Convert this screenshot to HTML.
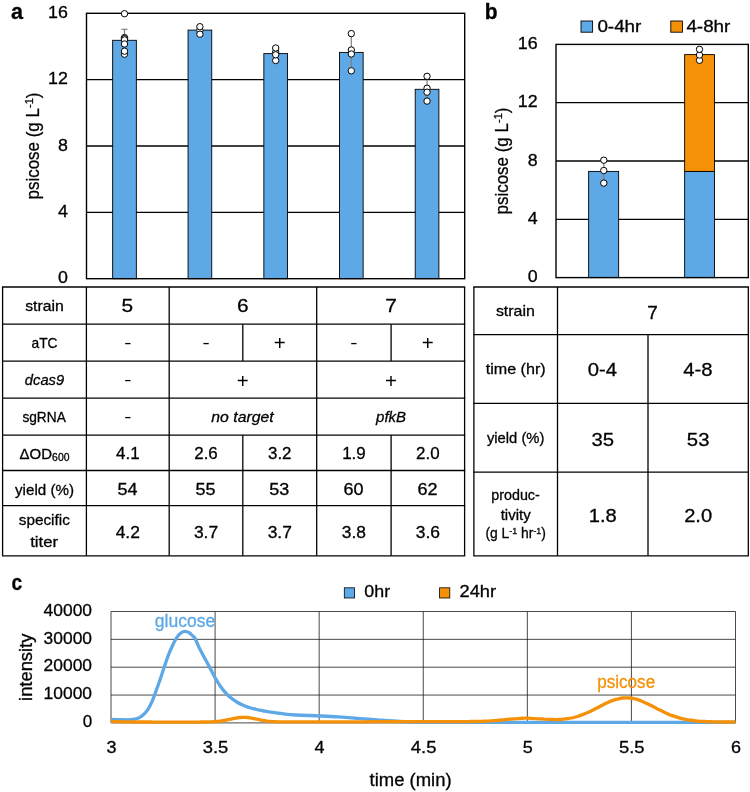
<!DOCTYPE html><html><head><meta charset="utf-8"><title>Figure</title>
<style>html,body{margin:0;padding:0;background:#fff}svg{display:block}text{font-family:"Liberation Sans", sans-serif}</style></head><body>
<svg width="750" height="792" viewBox="0 0 750 792">
<rect width="750" height="792" fill="#fff"/>
<g opacity="0.999">
<text x="11" y="19" font-size="21.3" text-anchor="start" textLength="12" lengthAdjust="spacingAndGlyphs" font-weight="bold" stroke="#000" stroke-width="0.3">a</text>
<text x="484.8" y="19" font-size="21.3" text-anchor="start" textLength="12.8" lengthAdjust="spacingAndGlyphs" font-weight="bold" stroke="#000" stroke-width="0.3">b</text>
<text x="11.6" y="590.2" font-size="21.3" text-anchor="start" textLength="10.7" lengthAdjust="spacingAndGlyphs" font-weight="bold" stroke="#000" stroke-width="0.3">c</text>
<line x1="86.5" y1="212.35" x2="464.7" y2="212.35" stroke="#000" stroke-width="1.3"/>
<line x1="86.5" y1="146.0" x2="464.7" y2="146.0" stroke="#000" stroke-width="1.3"/>
<line x1="86.5" y1="79.65" x2="464.7" y2="79.65" stroke="#000" stroke-width="1.3"/>
<rect x="112.65" y="40.3" width="23.7" height="238.39999999999998" fill="#5EA8E6" stroke="#000" stroke-width="0.9"/>
<rect x="188.05" y="30.1" width="23.7" height="248.6" fill="#5EA8E6" stroke="#000" stroke-width="0.9"/>
<rect x="263.84999999999997" y="53.6" width="23.7" height="225.1" fill="#5EA8E6" stroke="#000" stroke-width="0.9"/>
<rect x="339.45" y="52.4" width="23.7" height="226.29999999999998" fill="#5EA8E6" stroke="#000" stroke-width="0.9"/>
<rect x="415.2" y="89.3" width="23.7" height="189.39999999999998" fill="#5EA8E6" stroke="#000" stroke-width="0.9"/>
<rect x="86.5" y="13.3" width="378.2" height="265.4" fill="none" stroke="#000" stroke-width="1.4"/>
<line x1="124.5" y1="29.3" x2="124.5" y2="51.4" stroke="#7f7f7f" stroke-width="1.2"/>
<line x1="121.5" y1="29.3" x2="127.5" y2="29.3" stroke="#7f7f7f" stroke-width="1.2"/>
<line x1="121.5" y1="51.4" x2="127.5" y2="51.4" stroke="#7f7f7f" stroke-width="1.2"/>
<line x1="199.9" y1="28" x2="199.9" y2="33" stroke="#7f7f7f" stroke-width="1.2"/>
<line x1="196.9" y1="28" x2="202.9" y2="28" stroke="#7f7f7f" stroke-width="1.2"/>
<line x1="196.9" y1="33" x2="202.9" y2="33" stroke="#7f7f7f" stroke-width="1.2"/>
<line x1="275.7" y1="48" x2="275.7" y2="60" stroke="#7f7f7f" stroke-width="1.2"/>
<line x1="272.7" y1="48" x2="278.7" y2="48" stroke="#7f7f7f" stroke-width="1.2"/>
<line x1="272.7" y1="60" x2="278.7" y2="60" stroke="#7f7f7f" stroke-width="1.2"/>
<line x1="351.3" y1="34" x2="351.3" y2="70.6" stroke="#7f7f7f" stroke-width="1.2"/>
<line x1="348.3" y1="34" x2="354.3" y2="34" stroke="#7f7f7f" stroke-width="1.2"/>
<line x1="348.3" y1="70.6" x2="354.3" y2="70.6" stroke="#7f7f7f" stroke-width="1.2"/>
<line x1="427.05" y1="77" x2="427.05" y2="101" stroke="#7f7f7f" stroke-width="1.2"/>
<line x1="424.05" y1="77" x2="430.05" y2="77" stroke="#7f7f7f" stroke-width="1.2"/>
<line x1="424.05" y1="101" x2="430.05" y2="101" stroke="#7f7f7f" stroke-width="1.2"/>
<circle cx="124.5" cy="13.7" r="3.2" fill="#fff" stroke="#000" stroke-width="1"/>
<circle cx="124.5" cy="37.6" r="3.2" fill="#fff" stroke="#000" stroke-width="1"/>
<circle cx="124.5" cy="38.6" r="3.2" fill="#fff" stroke="#000" stroke-width="1"/>
<circle cx="124.5" cy="39.9" r="3.2" fill="#fff" stroke="#000" stroke-width="1"/>
<circle cx="124.5" cy="44" r="3.2" fill="#fff" stroke="#000" stroke-width="1"/>
<circle cx="124.5" cy="54.2" r="3.2" fill="#fff" stroke="#000" stroke-width="1"/>
<circle cx="124.5" cy="51.2" r="3.2" fill="#fff" stroke="#000" stroke-width="1"/>
<circle cx="199.9" cy="30.3" r="3.2" fill="#fff" stroke="#000" stroke-width="1"/>
<circle cx="199.9" cy="26.7" r="3.2" fill="#fff" stroke="#000" stroke-width="1"/>
<circle cx="199.9" cy="34.2" r="3.2" fill="#fff" stroke="#000" stroke-width="1"/>
<circle cx="275.7" cy="60.5" r="3.2" fill="#fff" stroke="#000" stroke-width="1"/>
<circle cx="275.7" cy="52" r="3.2" fill="#fff" stroke="#000" stroke-width="1"/>
<circle cx="275.7" cy="54.8" r="3.2" fill="#fff" stroke="#000" stroke-width="1"/>
<circle cx="275.7" cy="48" r="3.2" fill="#fff" stroke="#000" stroke-width="1"/>
<circle cx="351.3" cy="33.6" r="3.2" fill="#fff" stroke="#000" stroke-width="1"/>
<circle cx="351.3" cy="50" r="3.2" fill="#fff" stroke="#000" stroke-width="1"/>
<circle cx="351.3" cy="54" r="3.2" fill="#fff" stroke="#000" stroke-width="1"/>
<circle cx="351.3" cy="70.8" r="3.2" fill="#fff" stroke="#000" stroke-width="1"/>
<circle cx="427.05" cy="76.3" r="3.2" fill="#fff" stroke="#000" stroke-width="1"/>
<circle cx="427.05" cy="88.2" r="3.2" fill="#fff" stroke="#000" stroke-width="1"/>
<circle cx="427.05" cy="92.2" r="3.2" fill="#fff" stroke="#000" stroke-width="1"/>
<circle cx="427.05" cy="101.1" r="3.2" fill="#fff" stroke="#000" stroke-width="1"/>
<text x="67.9" y="283.3" font-size="16" text-anchor="end" textLength="9.9" lengthAdjust="spacingAndGlyphs" stroke="#000" stroke-width="0.3">0</text>
<text x="67.9" y="216.95" font-size="16" text-anchor="end" textLength="9.9" lengthAdjust="spacingAndGlyphs" stroke="#000" stroke-width="0.3">4</text>
<text x="67.9" y="150.6" font-size="16" text-anchor="end" textLength="9.9" lengthAdjust="spacingAndGlyphs" stroke="#000" stroke-width="0.3">8</text>
<text x="67.9" y="84.25" font-size="16" text-anchor="end" textLength="19.8" lengthAdjust="spacingAndGlyphs" stroke="#000" stroke-width="0.3">12</text>
<text x="67.9" y="17.900000000000013" font-size="16" text-anchor="end" textLength="19.8" lengthAdjust="spacingAndGlyphs" stroke="#000" stroke-width="0.3">16</text>
<text x="39" y="146" font-size="17.5" text-anchor="middle" textLength="107" lengthAdjust="spacingAndGlyphs" stroke="#000" stroke-width="0.3" transform="rotate(-90 39 146)">psicose (g L<tspan font-size="11.5" dy="-6.5">-1</tspan><tspan dy="6.5">)</tspan></text>
<line x1="556.0" y1="219.3" x2="748.3" y2="219.3" stroke="#000" stroke-width="1.3"/>
<line x1="556.0" y1="161.0" x2="748.3" y2="161.0" stroke="#000" stroke-width="1.3"/>
<line x1="556.0" y1="102.70000000000002" x2="748.3" y2="102.70000000000002" stroke="#000" stroke-width="1.3"/>
<rect x="588.65" y="171.4" width="30" height="106.20000000000002" fill="#5EA8E6" stroke="#000" stroke-width="0.9"/>
<rect x="684.65" y="171.4" width="29.8" height="106.20000000000002" fill="#5EA8E6" stroke="#000" stroke-width="0.9"/>
<rect x="684.65" y="54.6" width="29.8" height="116.80000000000001" fill="#F59108" stroke="#000" stroke-width="0.9"/>
<rect x="556.0" y="44.4" width="192.29999999999995" height="233.20000000000002" fill="none" stroke="#000" stroke-width="1.4"/>
<line x1="603.8" y1="161" x2="603.8" y2="183" stroke="#7f7f7f" stroke-width="1.2"/>
<line x1="600.8" y1="161" x2="606.8" y2="161" stroke="#7f7f7f" stroke-width="1.2"/>
<line x1="600.8" y1="183" x2="606.8" y2="183" stroke="#7f7f7f" stroke-width="1.2"/>
<line x1="699.5" y1="50" x2="699.5" y2="60" stroke="#7f7f7f" stroke-width="1.2"/>
<line x1="696.5" y1="50" x2="702.5" y2="50" stroke="#7f7f7f" stroke-width="1.2"/>
<line x1="696.5" y1="60" x2="702.5" y2="60" stroke="#7f7f7f" stroke-width="1.2"/>
<circle cx="603.8" cy="160.2" r="3.2" fill="#fff" stroke="#000" stroke-width="1"/>
<circle cx="603.8" cy="170.5" r="3.2" fill="#fff" stroke="#000" stroke-width="1"/>
<circle cx="603.8" cy="183.1" r="3.2" fill="#fff" stroke="#000" stroke-width="1"/>
<circle cx="699.5" cy="60.3" r="3.2" fill="#fff" stroke="#000" stroke-width="1"/>
<circle cx="699.5" cy="55" r="3.2" fill="#fff" stroke="#000" stroke-width="1"/>
<circle cx="699.5" cy="49.3" r="3.2" fill="#fff" stroke="#000" stroke-width="1"/>
<text x="537.6" y="282.20000000000005" font-size="16" text-anchor="end" textLength="9.9" lengthAdjust="spacingAndGlyphs" stroke="#000" stroke-width="0.3">0</text>
<text x="537.6" y="223.9" font-size="16" text-anchor="end" textLength="9.9" lengthAdjust="spacingAndGlyphs" stroke="#000" stroke-width="0.3">4</text>
<text x="537.6" y="165.6" font-size="16" text-anchor="end" textLength="9.9" lengthAdjust="spacingAndGlyphs" stroke="#000" stroke-width="0.3">8</text>
<text x="537.6" y="107.30000000000001" font-size="16" text-anchor="end" textLength="19.8" lengthAdjust="spacingAndGlyphs" stroke="#000" stroke-width="0.3">12</text>
<text x="537.6" y="49.00000000000001" font-size="16" text-anchor="end" textLength="19.8" lengthAdjust="spacingAndGlyphs" stroke="#000" stroke-width="0.3">16</text>
<text x="508" y="161" font-size="17.5" text-anchor="middle" textLength="107" lengthAdjust="spacingAndGlyphs" stroke="#000" stroke-width="0.3" transform="rotate(-90 508 161)">psicose (g L<tspan font-size="11.5" dy="-6.5">-1</tspan><tspan dy="6.5">)</tspan></text>
<rect x="581" y="21" width="11.6" height="11.2" fill="#5EA8E6" stroke="#000" stroke-width="0.9"/>
<text x="597.4" y="32" font-size="16" text-anchor="start" textLength="44" lengthAdjust="spacingAndGlyphs" stroke="#000" stroke-width="0.3">0-4hr</text>
<rect x="670.8" y="21" width="11.6" height="11.2" fill="#F59108" stroke="#000" stroke-width="0.9"/>
<text x="686.4" y="32" font-size="16" text-anchor="start" textLength="44" lengthAdjust="spacingAndGlyphs" stroke="#000" stroke-width="0.3">4-8hr</text>
<line x1="1.9500000000000002" y1="287" x2="465.25" y2="287" stroke="#000" stroke-width="1.3"/>
<line x1="1.9500000000000002" y1="324.2" x2="465.25" y2="324.2" stroke="#000" stroke-width="1.3"/>
<line x1="1.9500000000000002" y1="361.1" x2="465.25" y2="361.1" stroke="#000" stroke-width="1.3"/>
<line x1="1.9500000000000002" y1="398.1" x2="465.25" y2="398.1" stroke="#000" stroke-width="1.3"/>
<line x1="1.9500000000000002" y1="435.1" x2="465.25" y2="435.1" stroke="#000" stroke-width="1.3"/>
<line x1="1.9500000000000002" y1="470.5" x2="465.25" y2="470.5" stroke="#000" stroke-width="1.3"/>
<line x1="1.9500000000000002" y1="505.7" x2="465.25" y2="505.7" stroke="#000" stroke-width="1.3"/>
<line x1="1.9500000000000002" y1="555.8" x2="465.25" y2="555.8" stroke="#000" stroke-width="1.3"/>
<line x1="2.6" y1="287" x2="2.6" y2="555.8" stroke="#000" stroke-width="1.3"/>
<line x1="86.4" y1="287" x2="86.4" y2="555.8" stroke="#000" stroke-width="1.3"/>
<line x1="169.2" y1="287" x2="169.2" y2="555.8" stroke="#000" stroke-width="1.3"/>
<line x1="316.7" y1="287" x2="316.7" y2="555.8" stroke="#000" stroke-width="1.3"/>
<line x1="464.6" y1="287" x2="464.6" y2="555.8" stroke="#000" stroke-width="1.3"/>
<line x1="242.8" y1="324.2" x2="242.8" y2="361.1" stroke="#000" stroke-width="1.3"/>
<line x1="242.8" y1="435.1" x2="242.8" y2="555.8" stroke="#000" stroke-width="1.3"/>
<line x1="391.1" y1="324.2" x2="391.1" y2="361.1" stroke="#000" stroke-width="1.3"/>
<line x1="391.1" y1="435.1" x2="391.1" y2="555.8" stroke="#000" stroke-width="1.3"/>
<text x="44.5" y="311.3" font-size="15" text-anchor="middle" textLength="38.6" lengthAdjust="spacingAndGlyphs" stroke="#000" stroke-width="0.3">strain</text>
<text x="44.5" y="347.8" font-size="14.5" text-anchor="middle" textLength="26" lengthAdjust="spacingAndGlyphs" stroke="#000" stroke-width="0.3">aTC</text>
<text x="44.5" y="385" font-size="15" text-anchor="middle" textLength="39.3" lengthAdjust="spacingAndGlyphs" font-style="italic" stroke="#000" stroke-width="0.3">dcas9</text>
<text x="44.1" y="422" font-size="14.5" text-anchor="middle" textLength="43.4" lengthAdjust="spacingAndGlyphs" stroke="#000" stroke-width="0.3">sgRNA</text>
<text x="44.5" y="459.3" font-size="14.5" text-anchor="middle" textLength="49.8" lengthAdjust="spacingAndGlyphs" stroke="#000" stroke-width="0.3">ΔOD<tspan font-size="10" dy="1.8">600</tspan></text>
<text x="44.5" y="494.5" font-size="15" text-anchor="middle" textLength="59" lengthAdjust="spacingAndGlyphs" stroke="#000" stroke-width="0.3">yield (%)</text>
<text x="44.3" y="525.4" font-size="15" text-anchor="middle" textLength="51" lengthAdjust="spacingAndGlyphs" stroke="#000" stroke-width="0.3">specific</text>
<text x="44.2" y="547.2" font-size="15" text-anchor="middle" textLength="28" lengthAdjust="spacingAndGlyphs" stroke="#000" stroke-width="0.3">titer</text>
<text x="127.39999999999999" y="312.4" font-size="18.5" text-anchor="middle" textLength="11.6" lengthAdjust="spacingAndGlyphs" stroke="#000" stroke-width="0.3">5</text>
<text x="242.8" y="312.4" font-size="18.5" text-anchor="middle" textLength="11.6" lengthAdjust="spacingAndGlyphs" stroke="#000" stroke-width="0.3">6</text>
<text x="391.1" y="312.4" font-size="18.5" text-anchor="middle" textLength="11.6" lengthAdjust="spacingAndGlyphs" stroke="#000" stroke-width="0.3">7</text>
<text x="127.8" y="347.7" font-size="17" text-anchor="middle" textLength="7.2" lengthAdjust="spacingAndGlyphs" stroke="#000" stroke-width="0.1">-</text>
<text x="206.0" y="347.7" font-size="17" text-anchor="middle" textLength="7.2" lengthAdjust="spacingAndGlyphs" stroke="#000" stroke-width="0.1">-</text>
<text x="353.9" y="347.7" font-size="17" text-anchor="middle" textLength="7.2" lengthAdjust="spacingAndGlyphs" stroke="#000" stroke-width="0.1">-</text>
<text x="279.75" y="350.4" font-size="20.5" text-anchor="middle" stroke="#000" stroke-width="0">+</text>
<text x="427.85" y="350.4" font-size="20.5" text-anchor="middle" stroke="#000" stroke-width="0">+</text>
<text x="127.8" y="384.7" font-size="17" text-anchor="middle" textLength="7.2" lengthAdjust="spacingAndGlyphs" stroke="#000" stroke-width="0.1">-</text>
<text x="242.8" y="387.5" font-size="20.5" text-anchor="middle" stroke="#000" stroke-width="0">+</text>
<text x="391.1" y="387.5" font-size="20.5" text-anchor="middle" stroke="#000" stroke-width="0">+</text>
<text x="127.8" y="421.7" font-size="17" text-anchor="middle" textLength="7.2" lengthAdjust="spacingAndGlyphs" stroke="#000" stroke-width="0.1">-</text>
<text x="242.5" y="422" font-size="15" text-anchor="middle" textLength="62.3" lengthAdjust="spacingAndGlyphs" font-style="italic" stroke="#000" stroke-width="0.3">no target</text>
<text x="391.1" y="422" font-size="15" text-anchor="middle" textLength="30" lengthAdjust="spacingAndGlyphs" font-style="italic" stroke="#000" stroke-width="0.3">pfkB</text>
<text x="127.8" y="459.3" font-size="16" text-anchor="middle" textLength="23.5" lengthAdjust="spacingAndGlyphs" stroke="#000" stroke-width="0.3">4.1</text>
<text x="127.39999999999999" y="495" font-size="16" text-anchor="middle" textLength="20" lengthAdjust="spacingAndGlyphs" stroke="#000" stroke-width="0.3">54</text>
<text x="127.8" y="537.6" font-size="16" text-anchor="middle" textLength="24.2" lengthAdjust="spacingAndGlyphs" stroke="#000" stroke-width="0.3">4.2</text>
<text x="206.0" y="459.3" font-size="16" text-anchor="middle" textLength="23.5" lengthAdjust="spacingAndGlyphs" stroke="#000" stroke-width="0.3">2.6</text>
<text x="205.6" y="495" font-size="16" text-anchor="middle" textLength="20" lengthAdjust="spacingAndGlyphs" stroke="#000" stroke-width="0.3">55</text>
<text x="206.0" y="537.6" font-size="16" text-anchor="middle" textLength="24.2" lengthAdjust="spacingAndGlyphs" stroke="#000" stroke-width="0.3">3.7</text>
<text x="279.75" y="459.3" font-size="16" text-anchor="middle" textLength="23.5" lengthAdjust="spacingAndGlyphs" stroke="#000" stroke-width="0.3">3.2</text>
<text x="279.35" y="495" font-size="16" text-anchor="middle" textLength="20" lengthAdjust="spacingAndGlyphs" stroke="#000" stroke-width="0.3">53</text>
<text x="279.75" y="537.6" font-size="16" text-anchor="middle" textLength="24.2" lengthAdjust="spacingAndGlyphs" stroke="#000" stroke-width="0.3">3.7</text>
<text x="353.9" y="459.3" font-size="16" text-anchor="middle" textLength="23.5" lengthAdjust="spacingAndGlyphs" stroke="#000" stroke-width="0.3">1.9</text>
<text x="353.5" y="495" font-size="16" text-anchor="middle" textLength="20" lengthAdjust="spacingAndGlyphs" stroke="#000" stroke-width="0.3">60</text>
<text x="353.9" y="537.6" font-size="16" text-anchor="middle" textLength="24.2" lengthAdjust="spacingAndGlyphs" stroke="#000" stroke-width="0.3">3.8</text>
<text x="427.85" y="459.3" font-size="16" text-anchor="middle" textLength="23.5" lengthAdjust="spacingAndGlyphs" stroke="#000" stroke-width="0.3">2.0</text>
<text x="427.45000000000005" y="495" font-size="16" text-anchor="middle" textLength="20" lengthAdjust="spacingAndGlyphs" stroke="#000" stroke-width="0.3">62</text>
<text x="427.85" y="537.6" font-size="16" text-anchor="middle" textLength="24.2" lengthAdjust="spacingAndGlyphs" stroke="#000" stroke-width="0.3">3.6</text>
<line x1="473.25" y1="287" x2="748.9499999999999" y2="287" stroke="#000" stroke-width="1.3"/>
<line x1="473.25" y1="334.6" x2="748.9499999999999" y2="334.6" stroke="#000" stroke-width="1.3"/>
<line x1="473.25" y1="403.3" x2="748.9499999999999" y2="403.3" stroke="#000" stroke-width="1.3"/>
<line x1="473.25" y1="472.2" x2="748.9499999999999" y2="472.2" stroke="#000" stroke-width="1.3"/>
<line x1="473.25" y1="555.8" x2="748.9499999999999" y2="555.8" stroke="#000" stroke-width="1.3"/>
<line x1="473.9" y1="287" x2="473.9" y2="555.8" stroke="#000" stroke-width="1.3"/>
<line x1="557.5" y1="287" x2="557.5" y2="555.8" stroke="#000" stroke-width="1.3"/>
<line x1="748.3" y1="287" x2="748.3" y2="555.8" stroke="#000" stroke-width="1.3"/>
<line x1="648" y1="334.6" x2="648" y2="555.8" stroke="#000" stroke-width="1.3"/>
<text x="515.4000000000001" y="316.3" font-size="15" text-anchor="middle" textLength="39" lengthAdjust="spacingAndGlyphs" stroke="#000" stroke-width="0.3">strain</text>
<text x="515.7" y="374.3" font-size="15" text-anchor="middle" textLength="60" lengthAdjust="spacingAndGlyphs" stroke="#000" stroke-width="0.3">time (hr)</text>
<text x="515.7" y="443" font-size="15" text-anchor="middle" textLength="57.5" lengthAdjust="spacingAndGlyphs" stroke="#000" stroke-width="0.3">yield (%)</text>
<text x="515.5" y="500.4" font-size="14" text-anchor="middle" textLength="48.5" lengthAdjust="spacingAndGlyphs" stroke="#000" stroke-width="0.3">produc-</text>
<text x="515.7" y="519.7" font-size="14" text-anchor="middle" textLength="30" lengthAdjust="spacingAndGlyphs" stroke="#000" stroke-width="0.3">tivity</text>
<text x="515.7" y="538.2" font-size="14" text-anchor="middle" textLength="60.5" lengthAdjust="spacingAndGlyphs" stroke="#000" stroke-width="0.3">(g L<tspan font-size="9" dy="-4.5">-1</tspan><tspan dy="4.5"> hr</tspan><tspan font-size="9" dy="-4.5">-1</tspan><tspan dy="4.5">)</tspan></text>
<text x="652.5" y="318.8" font-size="19" text-anchor="middle" stroke="#000" stroke-width="0.3">7</text>
<text x="602.45" y="376.4" font-size="18.5" text-anchor="middle" textLength="29.3" lengthAdjust="spacingAndGlyphs" stroke="#000" stroke-width="0.3">0-4</text>
<text x="697.85" y="376.4" font-size="18.5" text-anchor="middle" textLength="29.3" lengthAdjust="spacingAndGlyphs" stroke="#000" stroke-width="0.3">4-8</text>
<text x="602.75" y="445.7" font-size="18.8" text-anchor="middle" textLength="22.6" lengthAdjust="spacingAndGlyphs" stroke="#000" stroke-width="0.3">35</text>
<text x="698.15" y="445.7" font-size="18.8" text-anchor="middle" textLength="22.6" lengthAdjust="spacingAndGlyphs" stroke="#000" stroke-width="0.3">53</text>
<text x="602.75" y="521.8" font-size="18.8" text-anchor="middle" textLength="28" lengthAdjust="spacingAndGlyphs" stroke="#000" stroke-width="0.3">1.8</text>
<text x="698.15" y="521.8" font-size="18.8" text-anchor="middle" textLength="28" lengthAdjust="spacingAndGlyphs" stroke="#000" stroke-width="0.3">2.0</text>
<line x1="111.0" y1="611.5" x2="735.5" y2="611.5" stroke="#1a1a1a" stroke-width="0.8"/>
<line x1="111.0" y1="639.35" x2="735.5" y2="639.35" stroke="#1a1a1a" stroke-width="0.8"/>
<line x1="111.0" y1="667.2" x2="735.5" y2="667.2" stroke="#1a1a1a" stroke-width="0.8"/>
<line x1="111.0" y1="695.05" x2="735.5" y2="695.05" stroke="#1a1a1a" stroke-width="0.8"/>
<line x1="111.0" y1="722.9" x2="735.5" y2="722.9" stroke="#1a1a1a" stroke-width="0.8"/>
<line x1="111.0" y1="611.5" x2="111.0" y2="722.9" stroke="#1a1a1a" stroke-width="0.8"/>
<line x1="215.08333333333331" y1="611.5" x2="215.08333333333331" y2="722.9" stroke="#1a1a1a" stroke-width="0.8"/>
<line x1="319.16666666666663" y1="611.5" x2="319.16666666666663" y2="722.9" stroke="#1a1a1a" stroke-width="0.8"/>
<line x1="423.25" y1="611.5" x2="423.25" y2="722.9" stroke="#1a1a1a" stroke-width="0.8"/>
<line x1="527.3333333333333" y1="611.5" x2="527.3333333333333" y2="722.9" stroke="#1a1a1a" stroke-width="0.8"/>
<line x1="631.4166666666666" y1="611.5" x2="631.4166666666666" y2="722.9" stroke="#1a1a1a" stroke-width="0.8"/>
<line x1="735.5" y1="611.5" x2="735.5" y2="722.9" stroke="#1a1a1a" stroke-width="0.8"/>
<path d="M111.0,719.4 C112.5,719.5 116.7,719.7 120.0,719.7 C123.3,719.8 128.1,719.9 131.1,719.7 C134.1,719.5 135.9,719.2 138.0,718.3 C140.1,717.4 142.0,715.8 143.6,714.4 C145.2,713.0 146.4,711.7 147.8,709.6 C149.2,707.5 150.5,705.0 151.9,701.9 C153.3,698.8 154.7,694.6 156.1,690.8 C157.5,687.0 158.9,683.0 160.3,679.0 C161.7,675.0 163.0,670.5 164.4,666.5 C165.8,662.5 167.2,658.3 168.6,654.7 C170.0,651.1 171.4,647.9 172.8,645.0 C174.2,642.1 175.5,639.4 176.9,637.4 C178.3,635.4 179.8,633.8 181.1,632.8 C182.4,631.8 183.6,631.3 185.0,631.3 C186.4,631.3 188.1,632.0 189.4,632.8 C190.7,633.5 191.7,634.9 192.6,635.8 C193.5,636.7 193.9,636.5 195.0,638.4 C196.1,640.3 197.2,643.6 198.9,647.1 C200.6,650.6 203.3,655.5 205.2,659.1 C207.1,662.7 208.6,665.5 210.3,668.6 C212.0,671.8 213.6,675.1 215.3,678.0 C217.0,680.9 218.7,683.8 220.4,686.2 C222.1,688.6 223.7,690.7 225.4,692.6 C227.1,694.5 228.6,696.0 230.5,697.6 C232.4,699.2 234.7,700.7 236.8,702.0 C238.9,703.3 240.8,704.2 243.1,705.2 C245.4,706.2 247.9,707.2 250.7,708.0 C253.5,708.8 257.8,709.7 260.0,710.2 C262.2,710.7 261.6,710.6 264.0,711.0 C266.4,711.4 271.1,712.2 274.7,712.7 C278.2,713.2 281.8,713.8 285.3,714.2 C288.9,714.6 290.3,714.7 296.0,715.0 C301.7,715.3 312.4,715.6 319.5,715.9 C326.6,716.2 331.9,716.4 338.7,716.9 C345.4,717.4 353.5,718.1 360.0,718.6 C366.5,719.1 370.9,719.4 377.6,719.9 C384.3,720.4 393.1,721.1 400.0,721.5 C406.9,721.9 412.3,722.1 419.0,722.2 C425.7,722.4 409.8,722.4 440.0,722.4 C470.2,722.4 550.8,722.4 600.0,722.4 C649.2,722.4 712.9,722.4 735.5,722.4" fill="none" stroke="#5EA8E6" stroke-width="3.3" stroke-linejoin="round" stroke-linecap="butt"/>
<path d="M111.0,721.4 C111.7,721.4 113.6,721.5 114.9,721.6 C116.2,721.6 117.5,721.7 118.8,721.7 C120.1,721.7 121.4,721.8 122.7,721.8 C124.0,721.8 125.3,721.8 126.6,721.9 C127.9,721.9 129.2,721.9 130.5,721.9 C131.8,721.9 133.1,721.9 134.4,722.0 C135.7,722.0 137.0,722.0 138.3,722.0 C139.6,722.0 140.9,722.0 142.2,722.0 C143.5,722.0 144.8,722.0 146.1,722.0 C147.4,722.0 148.7,722.0 150.0,722.0 C151.3,722.0 152.6,722.0 153.9,722.1 C155.2,722.1 156.5,722.1 157.8,722.1 C159.1,722.1 160.4,722.1 161.7,722.1 C163.0,722.1 164.3,722.1 165.6,722.1 C166.9,722.1 168.2,722.1 169.5,722.1 C170.8,722.1 172.1,722.1 173.4,722.1 C174.8,722.1 176.1,722.1 177.4,722.1 C178.7,722.1 180.0,722.1 181.3,722.1 C182.6,722.1 183.9,722.1 185.2,722.1 C186.5,722.1 187.8,722.1 189.1,722.1 C190.4,722.1 191.7,722.1 193.0,722.1 C194.3,722.1 195.6,722.1 196.9,722.1 C198.2,722.1 199.5,722.0 200.8,722.0 C202.1,722.0 203.4,722.0 204.7,722.0 C206.0,722.0 207.3,722.0 208.6,721.9 C209.9,721.9 211.2,721.9 212.5,721.8 C213.8,721.7 215.1,721.6 216.4,721.5 C217.7,721.4 219.0,721.3 220.3,721.1 C221.6,720.9 222.9,720.7 224.2,720.5 C225.5,720.3 226.8,720.0 228.1,719.7 C229.4,719.5 230.7,719.2 232.0,718.9 C233.3,718.6 234.6,718.3 235.9,718.1 C237.2,717.9 238.5,717.7 239.8,717.5 C241.1,717.4 242.4,717.3 243.7,717.3 C245.0,717.3 246.3,717.4 247.6,717.5 C248.9,717.6 250.2,717.9 251.5,718.1 C252.8,718.3 254.1,718.6 255.4,718.9 C256.7,719.1 258.0,719.4 259.3,719.7 C260.6,720.0 261.9,720.2 263.2,720.5 C264.5,720.7 265.8,720.9 267.1,721.1 C268.4,721.2 269.7,721.3 271.0,721.5 C272.3,721.6 273.6,721.6 274.9,721.7 C276.2,721.8 277.5,721.8 278.8,721.8 C280.1,721.9 281.4,721.9 282.7,721.9 C284.0,721.9 285.3,721.9 286.6,721.9 C287.9,721.9 289.2,721.9 290.5,721.9 C291.8,721.9 293.1,721.9 294.4,721.9 C295.7,721.9 297.0,721.9 298.4,721.9 C299.7,721.9 301.0,721.9 302.3,721.9 C303.6,721.9 304.9,721.9 306.2,721.9 C307.5,721.9 308.8,721.9 310.1,721.9 C311.4,721.9 312.7,721.9 314.0,721.9 C315.3,721.9 316.6,721.9 317.9,721.9 C319.2,721.9 320.5,721.9 321.8,721.9 C323.1,721.9 324.4,721.9 325.7,721.9 C327.0,721.9 328.3,721.9 329.6,721.8 C330.9,721.8 332.2,721.8 333.5,721.8 C334.8,721.8 336.1,721.8 337.4,721.8 C338.7,721.8 340.0,721.8 341.3,721.8 C342.6,721.8 343.9,721.8 345.2,721.8 C346.5,721.8 347.8,721.8 349.1,721.8 C350.4,721.8 351.7,721.8 353.0,721.8 C354.3,721.8 355.6,721.8 356.9,721.8 C358.2,721.8 359.5,721.8 360.8,721.8 C362.1,721.8 363.4,721.8 364.7,721.8 C366.0,721.8 367.3,721.8 368.6,721.8 C369.9,721.7 371.2,721.7 372.5,721.7 C373.8,721.7 375.1,721.7 376.4,721.7 C377.7,721.7 379.0,721.7 380.3,721.7 C381.6,721.7 382.9,721.7 384.2,721.7 C385.5,721.7 386.8,721.7 388.1,721.7 C389.4,721.7 390.7,721.7 392.0,721.7 C393.3,721.7 394.6,721.7 395.9,721.7 C397.2,721.7 398.5,721.7 399.8,721.7 C401.1,721.7 402.4,721.7 403.7,721.7 C405.0,721.7 406.3,721.7 407.6,721.7 C408.9,721.7 410.2,721.7 411.5,721.7 C412.8,721.7 414.1,721.7 415.4,721.6 C416.7,721.6 418.0,721.6 419.3,721.6 C420.6,721.6 421.9,721.6 423.2,721.6 C424.6,721.6 425.9,721.6 427.2,721.6 C428.5,721.6 429.8,721.6 431.1,721.6 C432.4,721.6 433.7,721.6 435.0,721.6 C436.3,721.6 437.6,721.6 438.9,721.6 C440.2,721.6 441.5,721.6 442.8,721.6 C444.1,721.6 445.4,721.6 446.7,721.6 C448.0,721.6 449.3,721.6 450.6,721.6 C451.9,721.6 453.2,721.6 454.5,721.6 C455.8,721.6 457.1,721.6 458.4,721.6 C459.7,721.6 461.0,721.6 462.3,721.6 C463.6,721.6 464.9,721.6 466.2,721.6 C467.5,721.6 468.8,721.5 470.1,721.5 C471.4,721.5 472.7,721.5 474.0,721.5 C475.3,721.5 476.6,721.4 477.9,721.4 C479.2,721.4 480.5,721.3 481.8,721.3 C483.1,721.3 484.4,721.2 485.7,721.2 C487.0,721.1 488.3,721.0 489.6,721.0 C490.9,720.9 492.2,720.8 493.5,720.7 C494.8,720.6 496.1,720.5 497.4,720.4 C498.7,720.3 500.0,720.2 501.3,720.0 C502.6,719.9 503.9,719.8 505.2,719.6 C506.5,719.5 507.8,719.4 509.1,719.2 C510.4,719.1 511.7,719.0 513.0,718.9 C514.3,718.8 515.6,718.6 516.9,718.6 C518.2,718.5 519.5,718.4 520.8,718.3 C522.1,718.3 523.4,718.2 524.7,718.2 C526.0,718.2 527.3,718.2 528.6,718.2 C529.9,718.3 531.2,718.3 532.5,718.4 C533.8,718.4 535.1,718.5 536.4,718.6 C537.7,718.6 539.0,718.7 540.3,718.8 C541.6,718.9 542.9,719.0 544.2,719.1 C545.5,719.2 546.8,719.3 548.2,719.4 C549.5,719.4 550.8,719.5 552.1,719.5 C553.4,719.6 554.7,719.6 556.0,719.6 C557.3,719.6 558.6,719.6 559.9,719.5 C561.2,719.4 562.5,719.3 563.8,719.2 C565.1,719.1 566.4,718.9 567.7,718.7 C569.0,718.5 570.3,718.3 571.6,718.0 C572.9,717.7 574.2,717.4 575.5,717.0 C576.8,716.7 578.1,716.3 579.4,715.8 C580.7,715.4 582.0,714.9 583.3,714.4 C584.6,713.9 585.9,713.3 587.2,712.8 C588.5,712.2 589.8,711.6 591.1,711.0 C592.4,710.3 593.7,709.7 595.0,709.0 C596.3,708.3 597.6,707.7 598.9,707.0 C600.2,706.3 601.5,705.6 602.8,705.0 C604.1,704.3 605.4,703.7 606.7,703.1 C608.0,702.5 609.3,701.9 610.6,701.3 C611.9,700.8 613.2,700.3 614.5,699.9 C615.8,699.4 617.1,699.1 618.4,698.8 C619.7,698.4 621.0,698.2 622.3,698.0 C623.6,697.9 624.9,697.8 626.2,697.8 C627.5,697.8 628.8,697.8 630.1,698.0 C631.4,698.1 632.7,698.4 634.0,698.7 C635.3,698.9 636.6,699.3 637.9,699.7 C639.2,700.2 640.5,700.6 641.8,701.2 C643.1,701.7 644.4,702.3 645.7,702.9 C647.0,703.5 648.3,704.1 649.6,704.8 C650.9,705.5 652.2,706.1 653.5,706.8 C654.8,707.5 656.1,708.2 657.4,708.9 C658.7,709.5 660.0,710.2 661.3,710.8 C662.6,711.5 663.9,712.1 665.2,712.7 C666.5,713.3 667.8,713.9 669.1,714.4 C670.4,715.0 671.7,715.5 673.1,715.9 C674.4,716.4 675.7,716.8 677.0,717.2 C678.3,717.6 679.6,718.0 680.9,718.3 C682.2,718.7 683.5,719.0 684.8,719.2 C686.1,719.5 687.4,719.7 688.7,720.0 C690.0,720.2 691.3,720.4 692.6,720.5 C693.9,720.7 695.2,720.8 696.5,721.0 C697.8,721.1 699.1,721.2 700.4,721.3 C701.7,721.4 703.0,721.4 704.3,721.5 C705.6,721.6 706.9,721.6 708.2,721.7 C709.5,721.7 710.8,721.8 712.1,721.8 C713.4,721.8 714.7,721.9 716.0,721.9 C717.3,721.9 718.6,721.9 719.9,722.0 C721.2,722.0 722.5,722.0 723.8,722.0 C725.1,722.0 726.4,722.0 727.7,722.0 C729.0,722.0 730.3,722.0 731.6,722.0 C732.9,722.0 734.8,722.0 735.5,722.0" fill="none" stroke="#F59108" stroke-width="3.3" stroke-linejoin="round" stroke-linecap="butt"/>
<text x="92" y="615.6" font-size="17" text-anchor="end" textLength="48.4" lengthAdjust="spacingAndGlyphs" stroke="#000" stroke-width="0.3">40000</text>
<text x="92" y="643.5" font-size="17" text-anchor="end" textLength="48.4" lengthAdjust="spacingAndGlyphs" stroke="#000" stroke-width="0.3">30000</text>
<text x="92" y="671.4" font-size="17" text-anchor="end" textLength="48.4" lengthAdjust="spacingAndGlyphs" stroke="#000" stroke-width="0.3">20000</text>
<text x="92" y="699.3" font-size="17" text-anchor="end" textLength="48.4" lengthAdjust="spacingAndGlyphs" stroke="#000" stroke-width="0.3">10000</text>
<text x="92.2" y="727.3" font-size="17" text-anchor="end" stroke="#000" stroke-width="0.3">0</text>
<text x="111.4" y="753.1" font-size="16.5" text-anchor="middle" textLength="10" lengthAdjust="spacingAndGlyphs" stroke="#000" stroke-width="0.3">3</text>
<text x="215.48333333333332" y="753.1" font-size="16.5" text-anchor="middle" textLength="25.6" lengthAdjust="spacingAndGlyphs" stroke="#000" stroke-width="0.3">3.5</text>
<text x="319.5666666666666" y="753.1" font-size="16.5" text-anchor="middle" textLength="10" lengthAdjust="spacingAndGlyphs" stroke="#000" stroke-width="0.3">4</text>
<text x="423.65" y="753.1" font-size="16.5" text-anchor="middle" textLength="25.6" lengthAdjust="spacingAndGlyphs" stroke="#000" stroke-width="0.3">4.5</text>
<text x="527.7333333333332" y="753.1" font-size="16.5" text-anchor="middle" textLength="10" lengthAdjust="spacingAndGlyphs" stroke="#000" stroke-width="0.3">5</text>
<text x="631.8166666666666" y="753.1" font-size="16.5" text-anchor="middle" textLength="25.6" lengthAdjust="spacingAndGlyphs" stroke="#000" stroke-width="0.3">5.5</text>
<text x="735.9" y="753.1" font-size="16.5" text-anchor="middle" textLength="10" lengthAdjust="spacingAndGlyphs" stroke="#000" stroke-width="0.3">6</text>
<text x="410.6" y="785.9" font-size="17.5" text-anchor="middle" textLength="82" lengthAdjust="spacingAndGlyphs" stroke="#000" stroke-width="0.3">time (min)</text>
<text x="32.4" y="667.3" font-size="17.5" text-anchor="middle" textLength="67.2" lengthAdjust="spacingAndGlyphs" stroke="#000" stroke-width="0.3" transform="rotate(-90 32.4 667.3)">intensity</text>
<text x="154.8" y="626.8" font-size="17.5" text-anchor="start" textLength="60.5" lengthAdjust="spacingAndGlyphs" fill="#5EA8E6" stroke="#5EA8E6" stroke-width="0.3">glucose</text>
<text x="597.2" y="687.7" font-size="18" text-anchor="start" textLength="58" lengthAdjust="spacingAndGlyphs" fill="#F59108" stroke="#F59108" stroke-width="0.3">psicose</text>
<rect x="344.3" y="587.8" width="10.2" height="10.2" fill="#5EA8E6" stroke="#000" stroke-width="0.8"/>
<text x="364.3" y="597.1" font-size="16.5" text-anchor="start" textLength="25.8" lengthAdjust="spacingAndGlyphs" stroke="#000" stroke-width="0.3">0hr</text>
<rect x="439.6" y="587.8" width="10.2" height="10.2" fill="#F59108" stroke="#000" stroke-width="0.8"/>
<text x="459.6" y="597.1" font-size="16.5" text-anchor="start" textLength="36.5" lengthAdjust="spacingAndGlyphs" stroke="#000" stroke-width="0.3">24hr</text>
</g>
</svg></body></html>
